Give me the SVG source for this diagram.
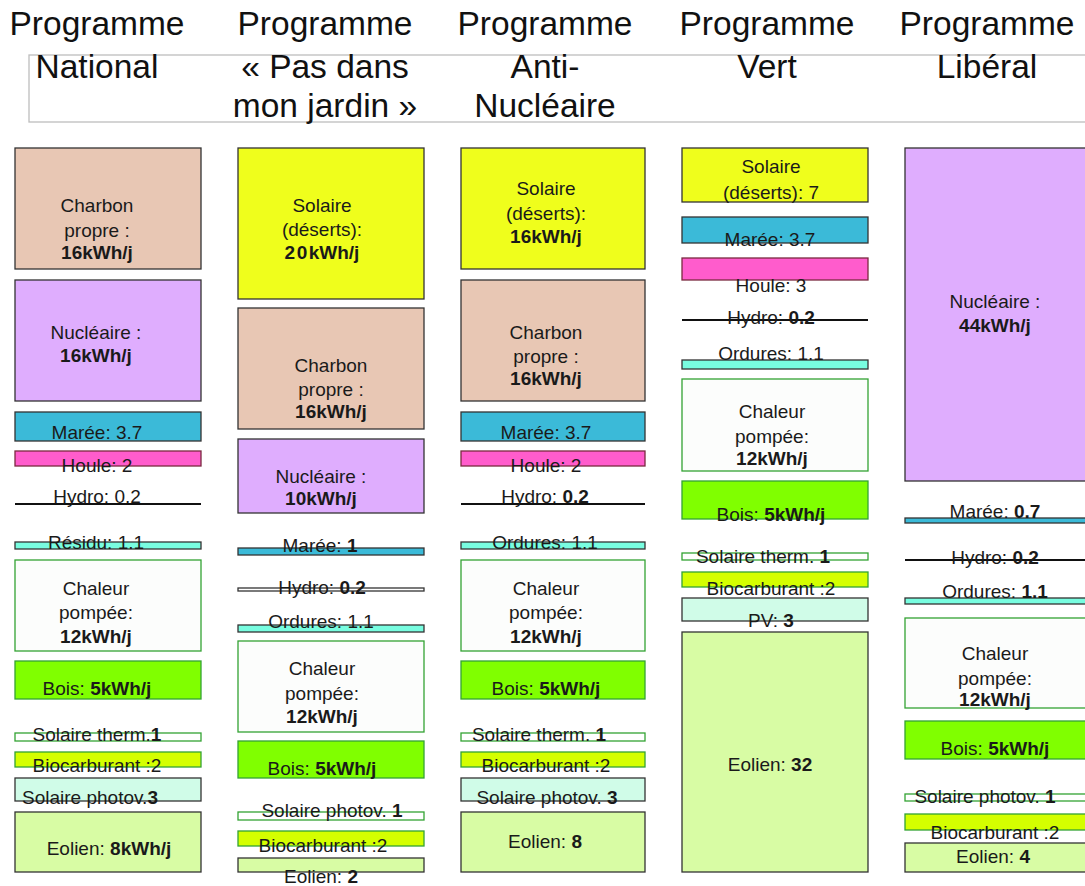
<svg xmlns="http://www.w3.org/2000/svg" width="1085" height="886" viewBox="0 0 1085 886">
<style>
text{font-family:"Liberation Sans",Arial,sans-serif;font-size:19px;fill:#1a1a1a;text-anchor:middle}
.h{font-size:33.5px;fill:#111}
.k{font-weight:bold}
rect{stroke-width:1.3}
.d{stroke:#333}
.g{stroke:#33a333}
.ch{fill:#e8c7b4}
.nu{fill:#dfadfe}
.ma{fill:#3bbad8}
.ho{fill:#ff5ccc;stroke:#7a2a40}
.or{fill:#78fde0}
.ca{fill:#fcfdfc}
.bo{fill:#80ff00}
.wt{fill:#ffffff}
.bi{fill:#d4ff00}
.pv{fill:#d0fce8}
.eo{fill:#d8fca4}
.so{fill:#effe1c}
.hy{stroke:#111;stroke-width:2}
</style>
<rect width="1085" height="886" fill="#ffffff" stroke="none"/>
<g id="header">
<rect x="29" y="55" width="1070" height="67" fill="none" stroke="#bdbdbd" stroke-width="1"/>
<text class="h" x="97" y="35">Programme</text><text class="h" x="97" y="78">National</text>
<text class="h" x="325" y="35">Programme</text><text class="h" x="325" y="78">« Pas dans</text><text class="h" x="325" y="117">mon jardin »</text>
<text class="h" x="545" y="35">Programme</text><text class="h" x="545" y="78">Anti-</text><text class="h" x="545" y="117">Nucléaire</text>
<text class="h" x="767" y="35">Programme</text><text class="h" x="767" y="78">Vert</text>
<text class="h" x="987" y="35">Programme</text><text class="h" x="987" y="78">Libéral</text>
</g>
<g id="connectors"/>
<!-- Column 1 -->
<g id="c1-charbon"><rect class="ch d" x="15" y="148" width="186" height="121"/><text x="97" y="212">Charbon</text><text x="97" y="237">propre :</text><text class="k" x="97" y="259">16kWh/j</text></g>
<g id="c1-nucleaire"><rect class="nu d" x="15" y="280" width="186" height="121"/><text x="96" y="339">Nucléaire :</text><text class="k" x="96" y="362">16kWh/j</text></g>
<g id="c1-maree"><rect class="ma d" x="15" y="412" width="186" height="29"/><text x="97" y="439">Marée: 3.7</text></g>
<g id="c1-houle"><rect class="ho" x="15" y="451" width="186" height="15"/><text x="97" y="472">Houle: 2</text></g>
<g id="c1-hydro"><line class="hy" x1="15" y1="504" x2="201" y2="504"/><text x="97" y="503">Hydro: 0.2</text></g>
<g id="c1-residu"><rect class="or d" x="15" y="542" width="186" height="7"/><text x="96" y="549">Résidu: 1.1</text></g>
<g id="c1-chaleur"><rect class="ca g" x="15" y="560" width="186" height="91"/><text x="96" y="595">Chaleur</text><text x="96" y="619">pompée:</text><text class="k" x="96" y="643">12kWh/j</text></g>
<g id="c1-bois"><rect class="bo g" x="15" y="661" width="186" height="38"/><text x="97" y="695">Bois: <tspan class="k">5kWh/j</tspan></text></g>
<g id="c1-soltherm"><rect class="wt g" x="15" y="733" width="186" height="8"/><text x="97" y="741">Solaire therm.<tspan class="k">1</tspan></text></g>
<g id="c1-biocarb"><rect class="bi g" x="15" y="752" width="186" height="15"/><text x="97" y="772">Biocarburant :2</text></g>
<g id="c1-photov"><rect class="pv d" x="15" y="778" width="186" height="23"/><text x="90" y="804">Solaire photov.<tspan class="k">3</tspan></text></g>
<g id="c1-eolien"><rect class="eo d" x="15" y="812" width="186" height="60"/><text x="109" y="855">Eolien: <tspan class="k">8kWh/j</tspan></text></g>
<!-- Column 2 -->
<g id="c2-solaire"><rect class="so d" x="238" y="148" width="186" height="151"/><text x="322" y="212">Solaire</text><text x="322" y="236">(déserts):</text><text class="k" x="322" y="259"><tspan letter-spacing="1.5">20</tspan>kWh/j</text></g>
<g id="c2-charbon"><rect class="ch d" x="238" y="308" width="186" height="121"/><text x="331" y="372">Charbon</text><text x="331" y="396">propre :</text><text class="k" x="331" y="418">16kWh/j</text></g>
<g id="c2-nucleaire"><rect class="nu d" x="238" y="439" width="186" height="74"/><text x="321" y="483">Nucléaire :</text><text class="k" x="321" y="505">10kWh/j</text></g>
<g id="c2-maree"><rect class="ma d" x="238" y="548" width="186" height="7"/><text x="320" y="552">Marée: <tspan class="k">1</tspan></text></g>
<g id="c2-hydro"><rect class="wt d" x="238" y="588" width="186" height="3"/><text x="322" y="594">Hydro: <tspan class="k">0.2</tspan></text></g>
<g id="c2-ordures"><rect class="or d" x="238" y="625" width="186" height="7"/><text x="321" y="628">Ordures: 1.1</text></g>
<g id="c2-chaleur"><rect class="ca g" x="238" y="641" width="186" height="91"/><text x="322" y="675">Chaleur</text><text x="322" y="700">pompée:</text><text class="k" x="322" y="723">12kWh/j</text></g>
<g id="c2-bois"><rect class="bo g" x="238" y="741" width="186" height="37"/><text x="322" y="775">Bois: <tspan class="k">5kWh/j</tspan></text></g>
<g id="c2-photov"><rect class="wt g" x="238" y="812" width="186" height="8"/><text x="332" y="817">Solaire photov. <tspan class="k">1</tspan></text></g>
<g id="c2-biocarb"><rect class="bi g" x="238" y="831" width="186" height="15"/><text x="323" y="852">Biocarburant :2</text></g>
<g id="c2-eolien"><rect class="eo d" x="238" y="858" width="186" height="14"/><text x="321" y="883">Eolien: <tspan class="k">2</tspan></text></g>
<!-- Column 3 -->
<g id="c3-solaire"><rect class="so d" x="461" y="148" width="184" height="121"/><text x="546" y="195">Solaire</text><text x="546" y="220">(déserts):</text><text class="k" x="546" y="243">16kWh/j</text></g>
<g id="c3-charbon"><rect class="ch d" x="461" y="280" width="184" height="121"/><text x="546" y="339">Charbon</text><text x="546" y="363">propre :</text><text class="k" x="546" y="385">16kWh/j</text></g>
<g id="c3-maree"><rect class="ma d" x="461" y="412" width="184" height="29"/><text x="546" y="439">Marée: 3.7</text></g>
<g id="c3-houle"><rect class="ho" x="461" y="451" width="184" height="15"/><text x="546" y="472">Houle: 2</text></g>
<g id="c3-hydro"><line class="hy" x1="461" y1="504" x2="645" y2="504"/><text x="545" y="503">Hydro: <tspan class="k">0.2</tspan></text></g>
<g id="c3-ordures"><rect class="or d" x="461" y="542" width="184" height="7"/><text x="545" y="549">Ordures: 1.1</text></g>
<g id="c3-chaleur"><rect class="ca g" x="461" y="560" width="184" height="91"/><text x="546" y="595">Chaleur</text><text x="546" y="619">pompée:</text><text class="k" x="546" y="643">12kWh/j</text></g>
<g id="c3-bois"><rect class="bo g" x="461" y="661" width="184" height="38"/><text x="546" y="695">Bois: <tspan class="k">5kWh/j</tspan></text></g>
<g id="c3-soltherm"><rect class="wt g" x="461" y="733" width="184" height="8"/><text x="539" y="741">Solaire therm. <tspan class="k">1</tspan></text></g>
<g id="c3-biocarb"><rect class="bi g" x="461" y="752" width="184" height="15"/><text x="546" y="772">Biocarburant :2</text></g>
<g id="c3-photov"><rect class="pv d" x="461" y="778" width="184" height="23"/><text x="547" y="804">Solaire photov. <tspan class="k">3</tspan></text></g>
<g id="c3-eolien"><rect class="eo d" x="461" y="812" width="184" height="60"/><text x="545" y="848">Eolien: <tspan class="k">8</tspan></text></g>
<!-- Column 4 -->
<g id="c4-solaire"><rect class="so d" x="682" y="148" width="186" height="54"/><text x="771" y="173">Solaire</text><text x="771" y="199">(déserts): 7</text></g>
<g id="c4-maree"><rect class="ma d" x="682" y="217" width="186" height="26"/><text x="770" y="246">Marée: 3.7</text></g>
<g id="c4-houle"><rect class="ho" x="682" y="258" width="186" height="22"/><text x="771" y="292">Houle: 3</text></g>
<g id="c4-hydro"><line class="hy" x1="682" y1="320" x2="868" y2="320"/><text x="771" y="324">Hydro: <tspan class="k">0.2</tspan></text></g>
<g id="c4-ordures"><rect class="or d" x="682" y="360" width="186" height="9"/><text x="771" y="360">Ordures: 1.1</text></g>
<g id="c4-chaleur"><rect class="ca g" x="682" y="379" width="186" height="92"/><text x="772" y="418">Chaleur</text><text x="772" y="443">pompée:</text><text class="k" x="772" y="465">12kWh/j</text></g>
<g id="c4-bois"><rect class="bo g" x="682" y="481" width="186" height="38"/><text x="771" y="521">Bois: <tspan class="k">5kWh/j</tspan></text></g>
<g id="c4-soltherm"><rect class="wt g" x="682" y="553" width="186" height="7"/><text x="763" y="563">Solaire therm. <tspan class="k">1</tspan></text></g>
<g id="c4-biocarb"><rect class="bi g" x="682" y="572" width="186" height="15"/><text x="771" y="595">Biocarburant :2</text></g>
<g id="c4-pv"><rect class="pv d" x="682" y="598" width="186" height="23"/><text x="771" y="627">PV: <tspan class="k">3</tspan></text></g>
<g id="c4-eolien"><rect class="eo d" x="682" y="632" width="186" height="240"/><text x="770" y="771">Eolien: <tspan class="k">32</tspan></text></g>
<!-- Column 5 -->
<g id="c5-nucleaire"><rect class="nu d" x="905" y="148" width="186" height="333"/><text x="995" y="308">Nucléaire :</text><text class="k" x="995" y="332">44kWh/j</text></g>
<g id="c5-maree"><rect class="ma d" x="905" y="518" width="186" height="5"/><text x="995" y="518">Marée: <tspan class="k">0.7</tspan></text></g>
<g id="c5-hydro"><line class="hy" x1="905" y1="560" x2="1091" y2="560"/><text x="995" y="564">Hydro: <tspan class="k">0.2</tspan></text></g>
<g id="c5-ordures"><rect class="or d" x="905" y="598" width="186" height="6"/><text x="995" y="598">Ordures: <tspan class="k">1.1</tspan></text></g>
<g id="c5-chaleur"><rect class="ca g" x="905" y="618" width="186" height="90"/><text x="995" y="660">Chaleur</text><text x="995" y="685">pompée:</text><text class="k" x="995" y="706">12kWh/j</text></g>
<g id="c5-bois"><rect class="bo g" x="905" y="721" width="186" height="38"/><text x="995" y="755">Bois: <tspan class="k">5kWh/j</tspan></text></g>
<g id="c5-photov"><rect class="wt g" x="905" y="794" width="186" height="7"/><text x="985" y="803">Solaire photov. <tspan class="k">1</tspan></text></g>
<g id="c5-biocarb"><rect class="bi g" x="905" y="814" width="186" height="16"/><text x="995" y="839">Biocarburant :2</text></g>
<g id="c5-eolien"><rect class="eo d" x="905" y="843" width="186" height="29"/><text x="993" y="863">Eolien: <tspan class="k">4</tspan></text></g>
</svg>
